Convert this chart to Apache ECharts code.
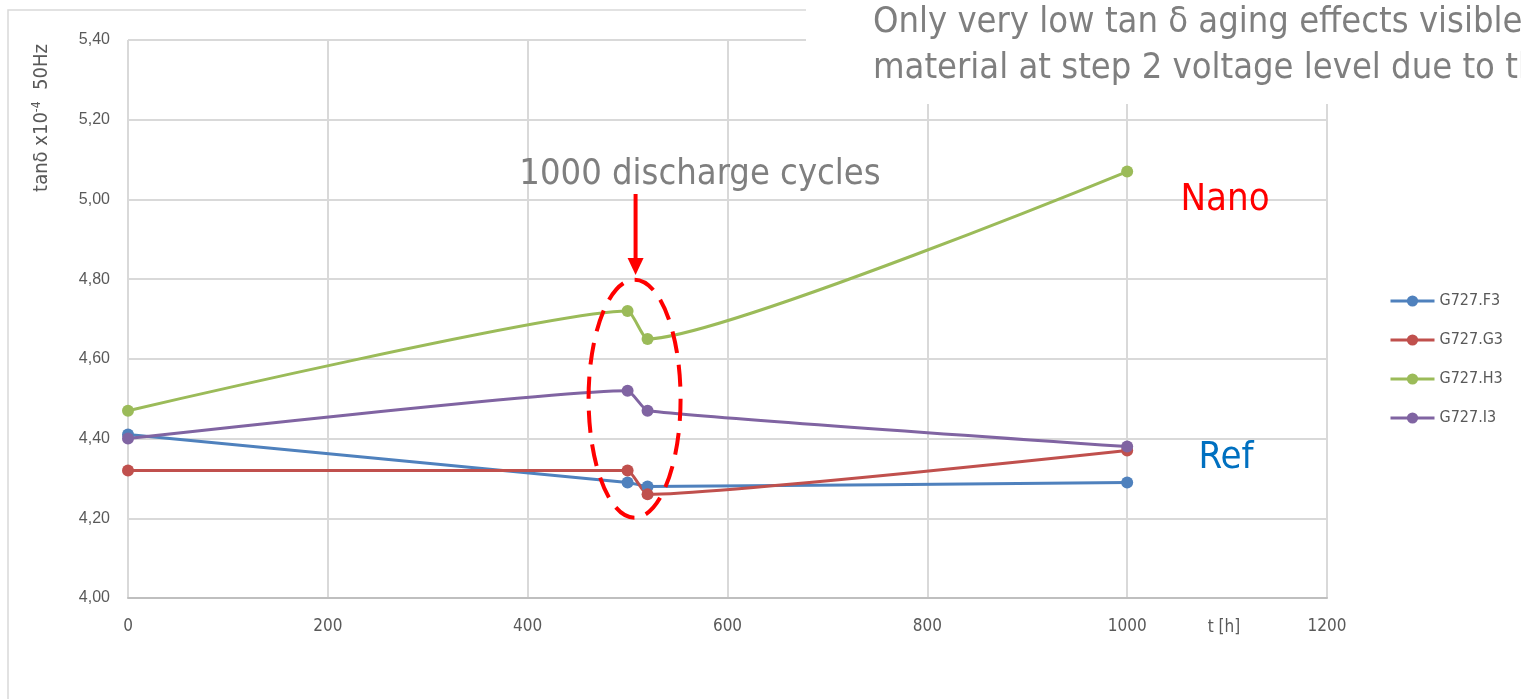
<!DOCTYPE html>
<html><head><meta charset="utf-8">
<script src="https://cdn.jsdelivr.net/npm/echarts@6/dist/echarts.min.js"></script>
<style>html,body{margin:0;padding:0;background:#fff}#c{width:1521px;height:699px}</style>
</head><body><div id="c"></div>
<script>
var hours = [0, 500, 520, 1000];
var seriesNames = ['G727.F3', 'G727.G3', 'G727.H3', 'G727.I3'];
var valuesF3 = [4.41, 4.29, 4.28, 4.29];
var valuesG3 = [4.32, 4.32, 4.26, 4.37];
var valuesH3 = [4.47, 4.72, 4.65, 5.07];
var valuesI3 = [4.40, 4.52, 4.47, 4.38];
var colors = ['#4F81BD', '#C0504D', '#9BBB59', '#8064A2'];
var yTicks = ['4,00','4,20','4,40','4,60','4,80','5,00','5,20','5,40'];

var narrow = "'Liberation Sans Narrow','DejaVu Sans Condensed','Roboto Condensed',sans-serif";
var allVals = [valuesF3, valuesG3, valuesH3, valuesI3];
function pairs(v){ return hours.map(function(h,i){ return [h, v[i]]; }); }

var chart = echarts.init(document.getElementById('c'));
var series = seriesNames.map(function(n, i){
  return {
    name: n, type: 'line', data: pairs(allVals[i]), smooth: 0.15,
    symbol: 'circle', symbolSize: 12,
    lineStyle: {width: 3, color: colors[i]},
    itemStyle: {color: colors[i]},
    z: 3
  };
});

chart.setOption({
  animation: false,
  color: colors,
  grid: {left: 128, right: 194, top: 40, bottom: 101, containLabel: false},
  xAxis: {
    type: 'value', min: 0, max: 1200, interval: 200,
    axisLine: {show: true, lineStyle: {color: '#bfbfbf', width: 2}},
    axisTick: {show: false},
    splitLine: {show: true, lineStyle: {color: '#d9d9d9', width: 2}},
    axisLabel: {color: '#595959', fontFamily: narrow, fontSize: 17, margin: 20, showMinLabel: true, showMaxLabel: true,
      formatter: function(v){ return String(v); }}
  },
  yAxis: {
    type: 'value', min: 4.0, max: 5.4, interval: 0.2,
    axisLine: {show: false}, axisTick: {show: false},
    splitLine: {show: true, lineStyle: {color: '#d9d9d9', width: 2}},
    axisLabel: {color: '#595959', fontFamily: "'Liberation Sans',Arial,sans-serif", fontSize: 16, margin: 18,
      formatter: function(v){ var i = Math.round((v-4)/0.2); return yTicks[i] !== undefined ? yTicks[i] : v.toFixed(2).replace('.', ','); }}
  },
  legend: {
    orient: 'vertical', left: 1384, top: 288, itemGap: 23, itemWidth: 44, itemHeight: 14,
    lineStyle: {width: 3},
    textStyle: {color: '#595959', fontFamily: narrow, fontSize: 16},
    data: seriesNames
  },
  series: series
});

function addAnnotations(){
  var c = chart.convertToPixel({gridIndex: 0}, [510, 4.495]);
  var top = chart.convertToPixel({gridIndex: 0}, [510, 4.80]);
  var g = [
    {type: 'rect', shape: {x: 8, y: 10, width: 1600, height: 800}, style: {fill: 'none', stroke: '#d9d9d9', lineWidth: 1.5}, z: 0, silent: true},
    {type: 'ellipse', shape: {cx: c[0]-3, cy: c[1]-2, rx: 46, ry: 119}, style: {fill: 'none', stroke: '#ff0000', lineWidth: 4, lineDash: [22, 12]}, z: 10},
    {type: 'line', shape: {x1: top[0]-2, y1: 194, x2: top[0]-2, y2: 260}, style: {stroke: '#ff0000', lineWidth: 4}, z: 10},
    {type: 'polygon', shape: {points: [[top[0]-10, 258], [top[0]+6, 258], [top[0]-2, 275]]}, style: {fill: '#ff0000'}, z: 10},
    {type: 'text', x: 700, y: 175, style: {text: '1000 discharge cycles', fill: '#7f7f7f', font: "36px " + narrow, textAlign: 'center', textVerticalAlign: 'middle'}, z: 10},
    {type: 'text', x: 1225, y: 200, style: {text: 'Nano', fill: '#ff0000', font: "38px " + narrow, textAlign: 'center', textVerticalAlign: 'middle'}, z: 10},
    {type: 'text', x: 1226, y: 458, style: {text: 'Ref', fill: '#0070C0', font: "38px " + narrow, textAlign: 'center', textVerticalAlign: 'middle'}, z: 10},
    {type: 'text', x: 1224, y: 628, style: {text: 't [h]', fill: '#595959', font: "17px " + narrow, textAlign: 'center', textVerticalAlign: 'middle'}, z: 10},
    {type: 'text', x: 42, y: 118, rotation: Math.PI/2, style: {rich: {a: {fill: '#595959', font: "20px " + narrow}, s: {fill: '#595959', font: "12px " + narrow, verticalAlign: 'top', padding: [0,0,10,0]}}, text: '{a|tanδ x10}{s|-4}{a|  50Hz}', textAlign: 'center', textVerticalAlign: 'middle'}, z: 10},
    {type: 'rect', shape: {x: 806, y: 0, width: 740, height: 104}, style: {fill: '#ffffff'}, z: 20},
    {type: 'text', x: 873, y: 23, style: {text: 'Only very low tan δ aging effects visible in the', fill: '#7f7f7f', font: "36px " + narrow, textVerticalAlign: 'middle'}, z: 21},
    {type: 'text', x: 873, y: 69, style: {text: 'material at step 2 voltage level due to the', fill: '#7f7f7f', font: "36px " + narrow, textVerticalAlign: 'middle'}, z: 21}
  ];
  chart.setOption({graphic: g});
}
addAnnotations();
</script>
</body></html>
